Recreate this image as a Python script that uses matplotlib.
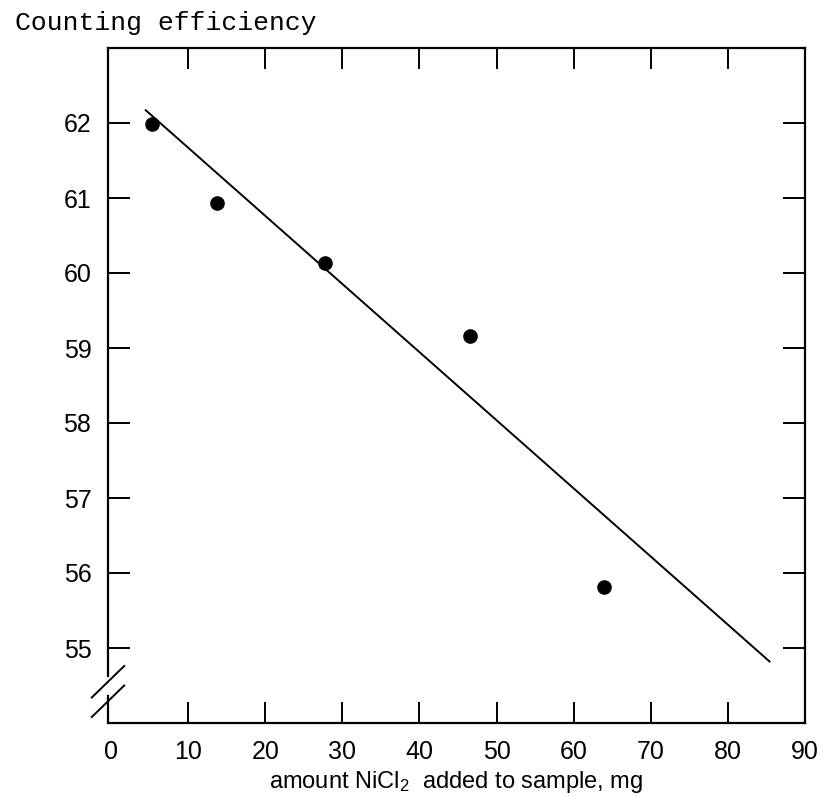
import matplotlib.pyplot as plt
import numpy as np

plt.rcParams['font.family'] = ['Liberation Sans', 'DejaVu Sans']
plt.rcParams['mathtext.fontset'] = 'custom'
plt.rcParams['mathtext.rm'] = 'Liberation Sans'
plt.rcParams['mathtext.it'] = 'Liberation Sans'

# Data
nicl2_mg = np.array([5.3, 13.7, 27.8, 46.6, 63.9])
efficiency = np.array([61.99, 60.94, 60.13, 59.16, 55.81])

# fitted line endpoints as drawn
fit_x = np.array([4.5, 85.4])
fit_y = np.array([62.17, 54.82])

x_labels = [0, 10, 20, 30, 40, 50, 60, 70, 80, 90]
x_marks = [10, 20, 30, 40, 50, 60, 70, 80]
y_ticks = [55, 56, 57, 58, 59, 60, 61, 62]

fig = plt.figure(figsize=(8.22, 7.96), dpi=100)
ax = fig.add_axes([108 / 822, 73 / 796, 697 / 822, 675 / 796])

ax.plot(fit_x, fit_y, color='black', lw=1.4)
ax.plot(nicl2_mg, efficiency, 'o', color='black', ms=9.5)

ax.set_xlim(-0.4, 90)
ax.set_ylim(54, 63)

# labels on major ticks, visible marks on minor ticks (no marks at 0 and 90)
ax.xaxis.remove_overlapping_locs = False
ax.set_xticks(x_labels)
ax.set_xticks(x_marks, minor=True)
ax.set_yticks(y_ticks)

ax.tick_params(axis='x', which='major', length=0, pad=12, labelsize=18)
ax.tick_params(axis='x', which='minor', direction='in', length=15,
               width=1.4, top=True, bottom=True)
ax.tick_params(axis='y', direction='in', length=16, width=1.4, pad=12,
               labelsize=18, left=True, right=True)

for s in ax.spines.values():
    s.set_linewidth(1.6)

# axis break on the left spine
ax.spines['left'].set_bounds(54.63, 63)
x0 = ax.get_xlim()[0]
ax.plot([x0, x0], [54, 54.36], color='black', lw=1.6, clip_on=False)
for yc in (54.55, 54.29):
    ax.plot([x0 - 2.1, x0 + 2.1], [yc - 0.21, yc + 0.21],
            color='black', lw=1.4, clip_on=False)

ax.set_xlabel('amount NiCl$_2$  added to sample, mg', fontsize=17, labelpad=4)

fig.text(15 / 822, 1 - 30 / 796, 'Counting efficiency',
         family='Liberation Mono', fontsize=19, va='baseline', ha='left')

fig.savefig('out.png', dpi=100)
